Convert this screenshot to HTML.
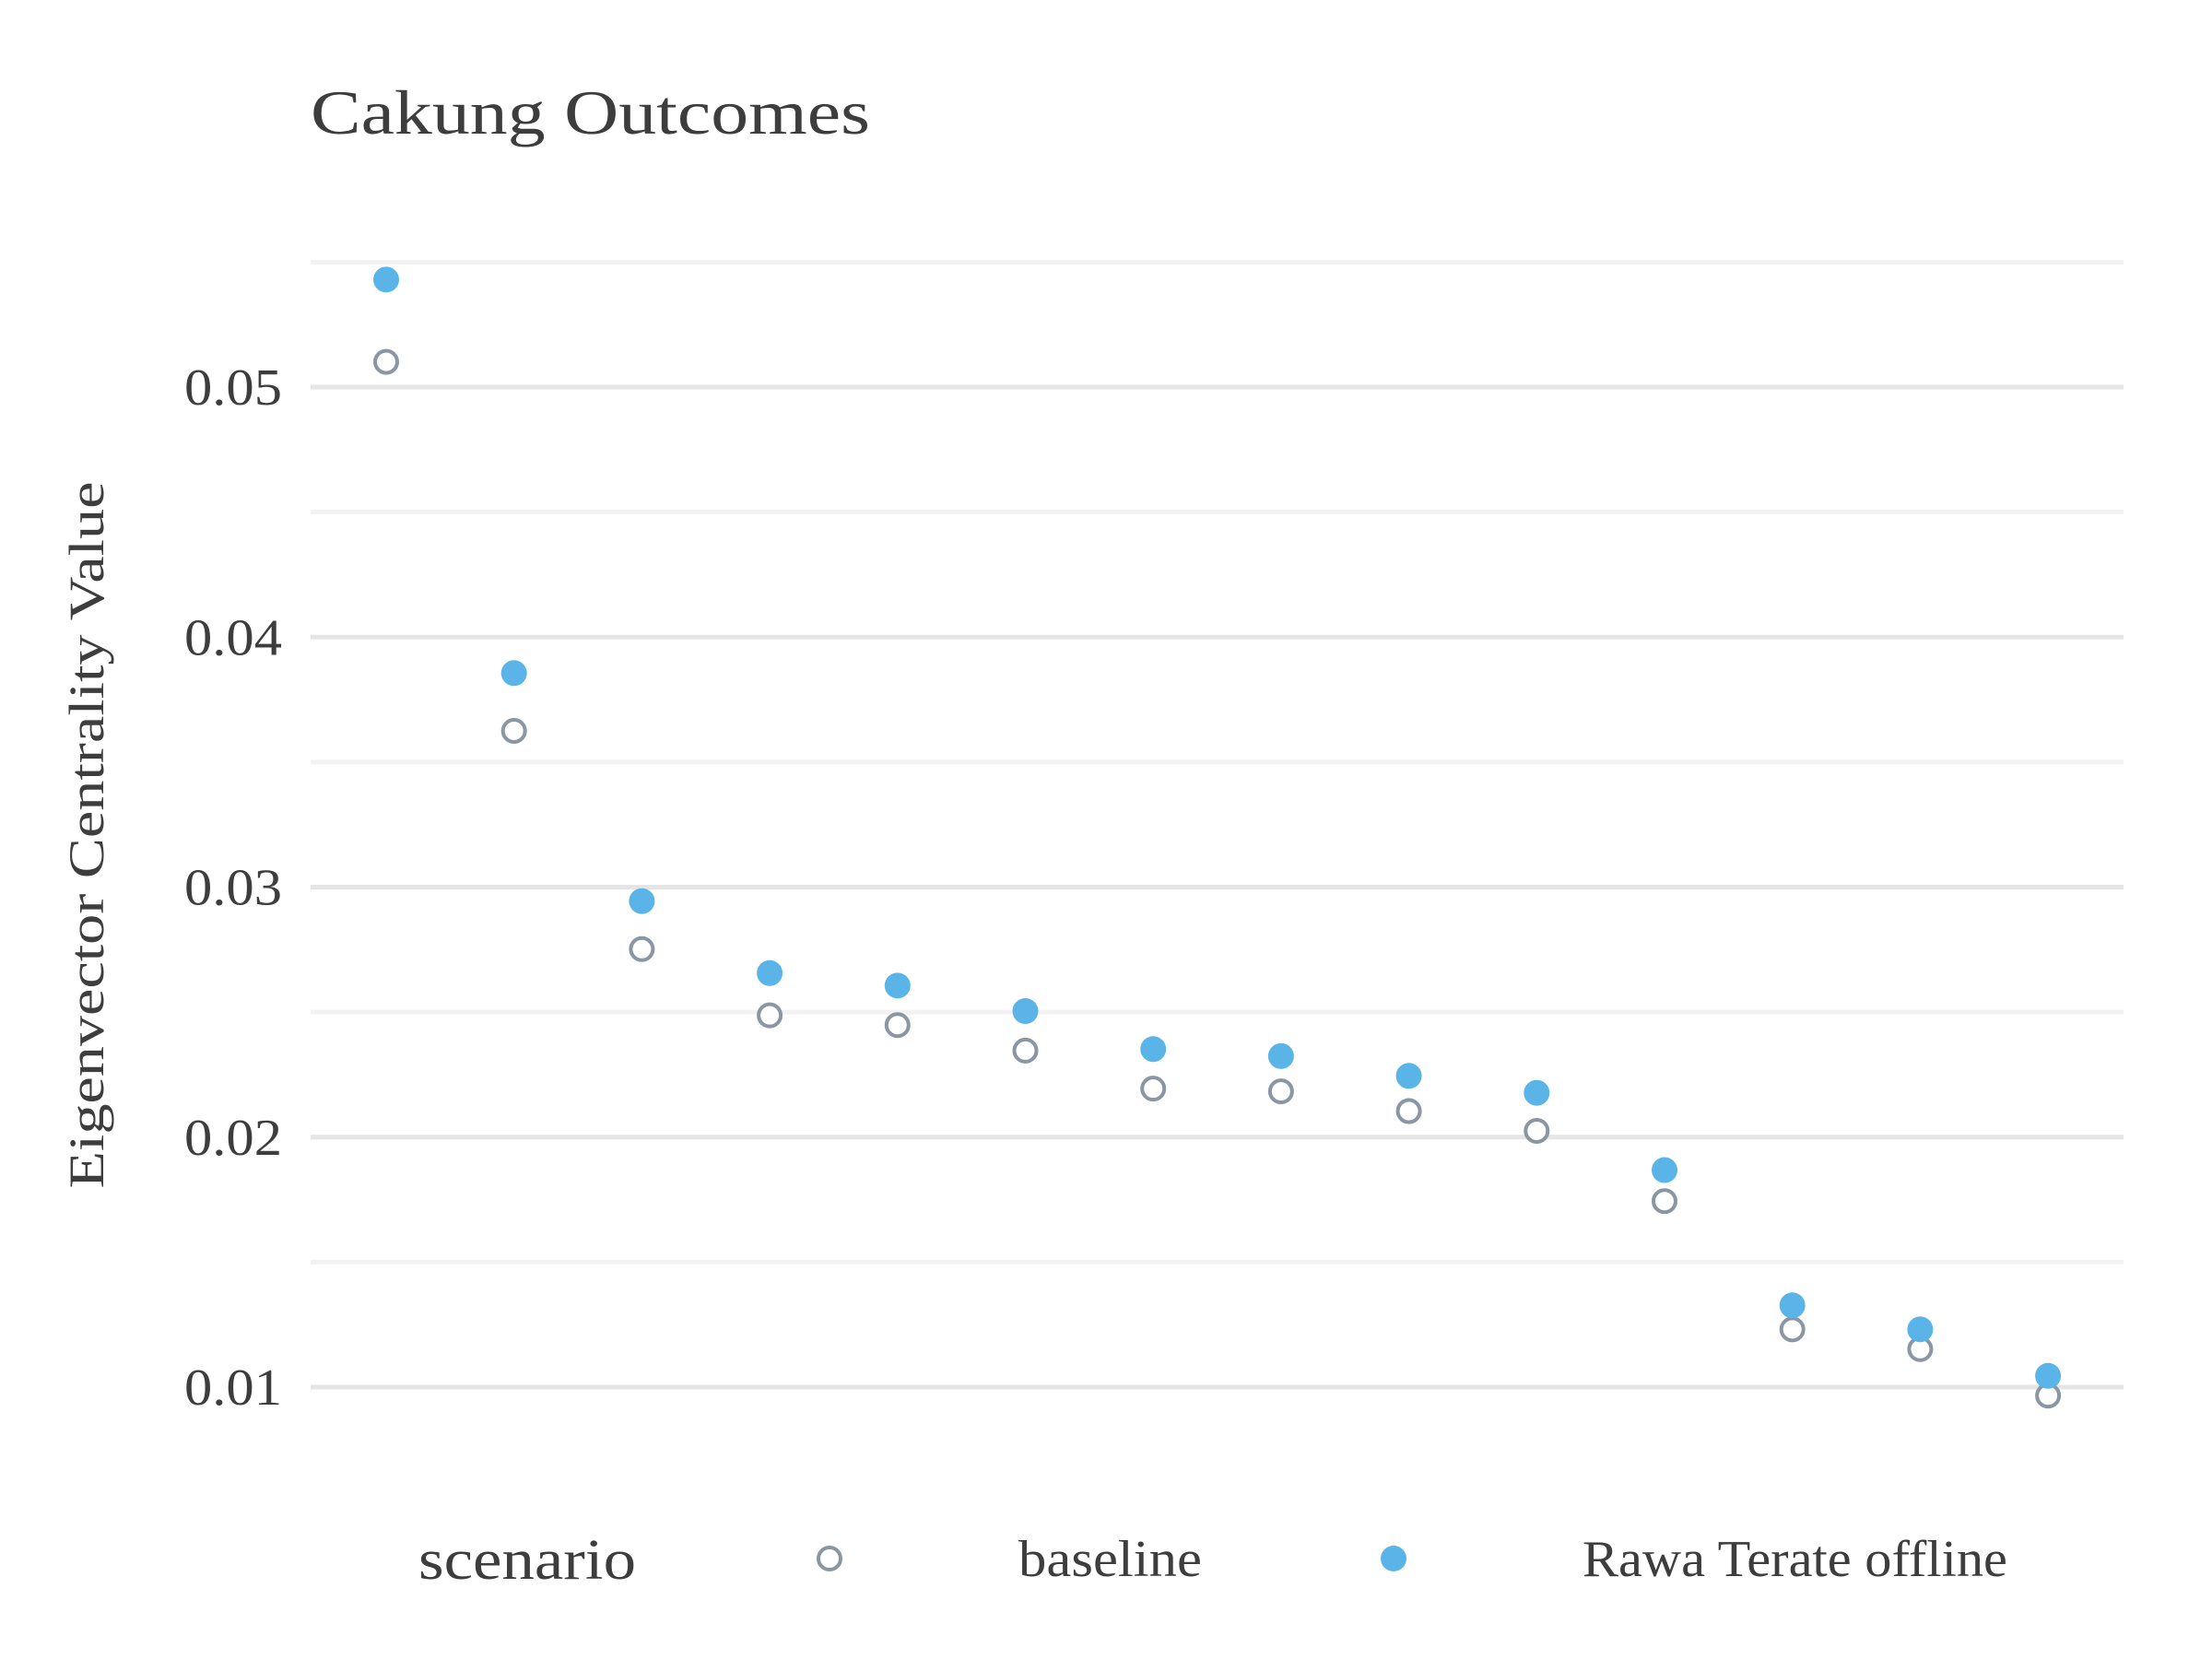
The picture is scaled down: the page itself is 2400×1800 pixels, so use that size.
<!DOCTYPE html>
<html><head><meta charset="utf-8"><style>
html,body{margin:0;padding:0;background:#fff;}
svg{display:block;font-family:"Liberation Serif",serif;}
</style></head><body>
<svg id="chart" width="2400" height="1800" viewBox="0 0 2400 1800">
<text x="337" y="145" font-size="68" fill="#3d3d3d" textLength="607" lengthAdjust="spacingAndGlyphs">Cakung Outcomes</text>
<g id="grid"></g>
<g id="yticks"></g>
<text transform="translate(112,906) rotate(-90)" text-anchor="middle" font-size="54" fill="#3d3d3d" textLength="767" lengthAdjust="spacingAndGlyphs">Eigenvector Centrality Value</text>
<g id="points"></g>
<g>
<text x="454" y="1713" font-size="62" fill="#3d3d3d" textLength="236" lengthAdjust="spacingAndGlyphs">scenario</text>
<circle cx="900" cy="1691" r="12" fill="#fff" stroke="#8a96a3" stroke-width="4"/>
<text x="1105" y="1710" font-size="56" fill="#3d3d3d" textLength="199" lengthAdjust="spacingAndGlyphs">baseline</text>
<circle cx="1512" cy="1691" r="14" fill="#5ab4e8"/>
<text x="1717" y="1710" font-size="56" fill="#3d3d3d" textLength="461" lengthAdjust="spacingAndGlyphs">Rawa Terate offline</text>
</g>
</svg>
<script>
const categories = ["n1","n2","n3","n4","n5","n6","n7","n8","n9","n10","n11","n12","n13","n14"];
const offline = [0.0543,0.03856,0.02944,0.02656,0.02606,0.02504,0.02352,0.02324,0.02245,0.02177,0.01868,0.01327,0.01231,0.01045];
const baseline = [0.05101,0.03625,0.02752,0.02487,0.02448,0.02346,0.02194,0.02183,0.02104,0.02025,0.01744,0.01231,0.01152,0.00966];
const majorTicks = [0.01,0.02,0.03,0.04,0.05];
const tickLabels = ["0.01","0.02","0.03","0.04","0.05"];
const minorTicks = [0.015,0.025,0.035,0.045,0.055];

const NS="http://www.w3.org/2000/svg";
const y = v => 420 + (0.05 - v) * 27125;
const x = i => 419 + i * 138.7;
const grid=document.getElementById('grid'), yt=document.getElementById('yticks'), pts=document.getElementById('points');
function line(v,col,name){
  const l=document.createElementNS(NS,'line');
  l.setAttribute('x1',337);l.setAttribute('x2',2304);
  l.setAttribute('y1',y(v));l.setAttribute('y2',y(v));
  l.setAttribute('stroke',col);l.setAttribute('stroke-width',5);
  
  
  grid.appendChild(l);
}
minorTicks.forEach(v=>line(v,'#f2f2f2','minor-gridline'));
majorTicks.forEach((v,i)=>{
  line(v,'#e5e5e5','major-gridline');
  const t=document.createElementNS(NS,'text');
  t.setAttribute('x',306);t.setAttribute('y',y(v)+19);
  t.setAttribute('text-anchor','end');t.setAttribute('font-size',56);t.setAttribute('fill','#3d3d3d');
  t.setAttribute('textLength',106);t.setAttribute('lengthAdjust','spacingAndGlyphs');
  t.textContent=tickLabels[i];
  
  
  yt.appendChild(t);
});
categories.forEach((c,i)=>{
  const b=document.createElementNS(NS,'circle');
  b.setAttribute('cx',x(i));b.setAttribute('cy',y(baseline[i]));b.setAttribute('r',12);
  b.setAttribute('fill','#fff');b.setAttribute('stroke','#8a96a3');b.setAttribute('stroke-width',4);
  
  
  pts.appendChild(b);
  const o=document.createElementNS(NS,'circle');
  o.setAttribute('cx',x(i));o.setAttribute('cy',y(offline[i]));o.setAttribute('r',14);
  o.setAttribute('fill','#5ab4e8');
  
  
  pts.appendChild(o);
});
</script>
</body></html>
